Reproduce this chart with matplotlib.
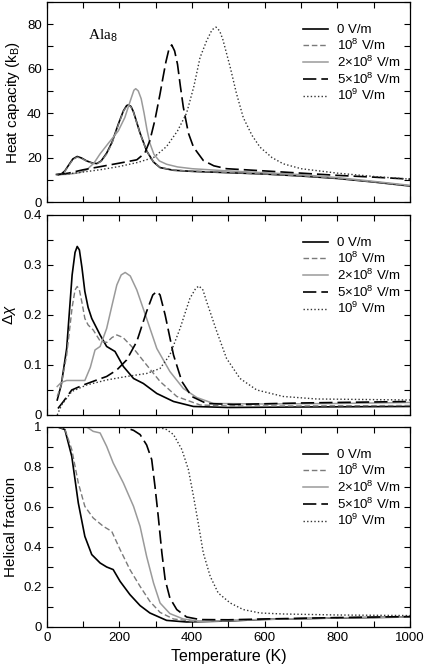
import matplotlib
matplotlib.use("Agg")
import matplotlib.pyplot as plt
from matplotlib.ticker import MultipleLocator, FormatStrFormatter

plt.rcParams["font.family"] = ["Liberation Sans", "DejaVu Sans"]
plt.rcParams["mathtext.fontset"] = "custom"
plt.rcParams["mathtext.rm"] = "Liberation Sans"
plt.rcParams["mathtext.it"] = "Liberation Sans:italic"

labels = ["0 V/m", "10$^8$ V/m", "2×10$^8$ V/m", "5×10$^8$ V/m", "10$^9$ V/m"]

# heat capacity (k_B)
cv_t0 = [27, 40, 50, 60, 72, 84, 96, 110, 125, 138, 150, 165, 180, 197, 211, 220, 225, 232, 239, 257, 275, 294, 312, 349, 400, 500, 600, 700, 800, 900, 1000]
cv_0 = [12.4, 12.6, 14.0, 16.5, 19.4, 20.5, 19.8, 18.5, 17.6, 17.3, 18.5, 22, 27, 35, 41, 43.4, 43.7, 43, 40.5, 31, 23, 18, 15.5, 14.3, 13.8, 13.2, 12.6, 11.7, 10.6, 9.0, 7.2]
cv_1 = [12.4, 12.6, 13.8, 16.2, 19.1, 20.2, 19.6, 18.4, 17.5, 17.2, 18.3, 21.6, 26.6, 34.6, 40.7, 43.1, 43.4, 42.8, 40.3, 30.8, 23, 18.1, 15.6, 14.4, 13.9, 13.3, 12.6, 11.8, 10.7, 9.1, 7.3]
cv_t2 = [30, 60, 90, 110, 130, 147, 170, 197, 215, 230, 240, 245, 252, 260, 268, 276, 284, 295, 310, 330, 360, 400, 500, 600, 700, 800, 900, 1000]
cv_2 = [12.3, 12.5, 13.2, 14.5, 17.5, 21.7, 26.5, 32, 38, 45.5, 50.3, 51, 50, 46.5, 40, 32.5, 26.5, 21.5, 18.5, 17, 15.8, 15, 14, 13.2, 12.3, 11.0, 9.3, 7.5]
cv_t5 = [30, 60, 100, 150, 200, 248, 270, 284, 298, 312, 320, 328, 336, 344, 352, 360, 368, 376, 390, 404, 431, 460, 495, 600, 700, 800, 900, 1000]
cv_5 = [12.3, 13.0, 14.5, 16.0, 17.5, 19, 22, 27.7, 37, 48.7, 56, 63, 68.5, 70.7, 68, 62, 52, 42.7, 31, 24.7, 18.7, 16.3, 15, 14, 13, 12, 11.2, 10.3]
cv_t9 = [30, 60, 100, 150, 200, 250, 294, 330, 360, 385, 405, 422, 440, 455, 466, 476, 485, 505, 522, 541, 565, 587, 620, 651, 700, 800, 900, 1000]
cv_9 = [12.3, 12.7, 13.5, 14.6, 16, 17.8, 20, 25, 32, 40, 52, 65, 72.5, 77.5, 78.7, 77, 73, 60.7, 49, 38, 30, 24.7, 20, 17.2, 15, 13, 11.5, 10.3]

# susceptibility difference
dx_t0 = [29, 40, 55, 70, 78, 84, 90, 97, 105, 114, 124, 147, 165, 188, 211, 239, 266, 303, 349, 404, 500, 700, 1000]
dx_0 = [0.03, 0.06, 0.133, 0.28, 0.325, 0.337, 0.33, 0.295, 0.247, 0.215, 0.193, 0.16, 0.137, 0.127, 0.097, 0.073, 0.063, 0.043, 0.027, 0.017, 0.015, 0.016, 0.017]
dx_t1 = [29, 40, 55, 70, 78, 84, 90, 97, 105, 114, 128, 147, 165, 180, 193, 210, 239, 275, 312, 358, 422, 500, 700, 1000]
dx_1 = [0.037, 0.06, 0.12, 0.215, 0.25, 0.257, 0.25, 0.225, 0.193, 0.18, 0.17, 0.148, 0.145, 0.155, 0.16, 0.155, 0.133, 0.1, 0.067, 0.037, 0.02, 0.018, 0.018, 0.019]
dx_t2 = [29, 40, 55, 80, 105, 120, 133, 147, 165, 180, 193, 205, 216, 230, 248, 275, 303, 339, 376, 413, 459, 600, 800, 1000]
dx_2 = [0.057, 0.065, 0.069, 0.069, 0.069, 0.095, 0.13, 0.137, 0.173, 0.22, 0.26, 0.28, 0.285, 0.278, 0.25, 0.193, 0.133, 0.087, 0.053, 0.035, 0.023, 0.022, 0.023, 0.025]
dx_t5 = [31, 46, 69, 101, 138, 165, 193, 220, 248, 275, 292, 303, 312, 326, 349, 372, 399, 440, 514, 700, 1000]
dx_5 = [0.013, 0.027, 0.05, 0.06, 0.07, 0.077, 0.09, 0.11, 0.147, 0.207, 0.24, 0.247, 0.24, 0.2, 0.12, 0.067, 0.037, 0.023, 0.021, 0.024, 0.027]
dx_t9 = [29, 41, 69, 110, 165, 220, 275, 312, 339, 367, 394, 410, 419, 430, 440, 468, 495, 532, 578, 651, 743, 1000]
dx_9 = [0.0, 0.02, 0.047, 0.06, 0.07, 0.077, 0.083, 0.093, 0.12, 0.173, 0.233, 0.253, 0.258, 0.25, 0.227, 0.167, 0.113, 0.073, 0.05, 0.037, 0.032, 0.03]

# helical fraction
hf_t0 = [30, 50, 69, 87, 105, 124, 147, 165, 183, 202, 229, 257, 284, 330, 385, 500, 600, 800, 1000]
hf_0 = [1.0, 0.987, 0.853, 0.62, 0.453, 0.362, 0.32, 0.3, 0.287, 0.228, 0.162, 0.107, 0.07, 0.033, 0.025, 0.03, 0.038, 0.045, 0.05]
hf_t1 = [30, 50, 69, 87, 105, 128, 156, 179, 202, 229, 257, 284, 312, 349, 404, 500, 600, 800, 1000]
hf_1 = [1.0, 0.99, 0.887, 0.72, 0.603, 0.545, 0.503, 0.478, 0.387, 0.287, 0.203, 0.128, 0.073, 0.04, 0.028, 0.032, 0.038, 0.045, 0.05]
hf_t2 = [30, 110, 128, 147, 165, 183, 211, 239, 257, 275, 294, 312, 339, 376, 422, 500, 600, 800, 1000]
hf_2 = [1.0, 1.0, 0.978, 0.97, 0.903, 0.82, 0.72, 0.603, 0.503, 0.353, 0.22, 0.12, 0.067, 0.04, 0.028, 0.032, 0.038, 0.046, 0.05]
hf_t5 = [30, 211, 239, 257, 275, 289, 298, 307, 317, 326, 339, 358, 385, 422, 500, 600, 800, 1000]
hf_5 = [1.0, 1.0, 0.983, 0.962, 0.91, 0.837, 0.703, 0.553, 0.37, 0.237, 0.145, 0.087, 0.05, 0.037, 0.036, 0.04, 0.047, 0.052]
hf_t9 = [30, 303, 330, 349, 372, 390, 404, 417, 431, 450, 472, 505, 541, 587, 651, 800, 1000]
hf_9 = [1.0, 1.0, 0.987, 0.962, 0.887, 0.787, 0.653, 0.52, 0.37, 0.253, 0.17, 0.12, 0.087, 0.07, 0.065, 0.06, 0.057]

styles = [
    dict(color="black", lw=1.2, ls="-"),
    dict(color="#7a7a7a", lw=1.0, ls=(0, (4, 2))),
    dict(color="#9a9a9a", lw=1.1, ls="-"),
    dict(color="black", lw=1.2, ls=(0, (8, 3))),
    dict(color="#333333", lw=1.0, ls=(0, (1, 1.6))),
]

panels = [
    ([cv_t0, cv_t0, cv_t2, cv_t5, cv_t9], [cv_0, cv_1, cv_2, cv_5, cv_9],
     "Heat capacity (k$_\\mathrm{B}$)", (0, 90), 20, 10, "%d"),
    ([dx_t0, dx_t1, dx_t2, dx_t5, dx_t9], [dx_0, dx_1, dx_2, dx_5, dx_9],
     "$\\Delta\\chi$", (0, 0.4), 0.1, 0.05, "%g"),
    ([hf_t0, hf_t1, hf_t2, hf_t5, hf_t9], [hf_0, hf_1, hf_2, hf_5, hf_9],
     "Helical fraction", (0, 1), 0.2, 0.1, "%g"),
]

fig = plt.figure(figsize=(4.26, 6.69), dpi=100)
bottoms = [0.698, 0.3797, 0.0628]
for i, (ts, ys, ylabel, ylim, major, minor, fmt) in enumerate(panels):
    ax = fig.add_axes([0.1096, bottoms[i], 0.853, 0.299])
    for t, y, lab, st in zip(ts, ys, labels, styles):
        ax.plot(t, y, label=lab, **st)
    ax.set_xlim(0, 1000)
    ax.set_ylim(*ylim)
    ax.xaxis.set_major_locator(MultipleLocator(200))
    ax.xaxis.set_minor_locator(MultipleLocator(100))
    ax.yaxis.set_major_locator(MultipleLocator(major))
    ax.yaxis.set_minor_locator(MultipleLocator(minor))
    ax.yaxis.set_major_formatter(FormatStrFormatter(fmt))
    ax.tick_params(which="both", direction="in", top=True, right=True,
                   labelsize=9.5, width=0.8, length=4)
    for sp in ax.spines.values():
        sp.set_linewidth(0.9)
    ax.set_ylabel(ylabel, fontsize=11, labelpad=4)
    ax.legend(loc="upper left", bbox_to_anchor=(0.705, 0.89), frameon=False,
              fontsize=9.5, handlelength=1.9, labelspacing=0.12,
              handletextpad=0.65, borderaxespad=0, borderpad=0)
    if i < 2:
        ax.tick_params(labelbottom=False)
    else:
        ax.set_xlabel("Temperature (K)", fontsize=11.5)
    if i == 0:
        ax.text(114, 75, "Ala$_8$", fontsize=11, family="Liberation Serif",
                ha="left", va="center")

fig.savefig("out.png", dpi=100)
